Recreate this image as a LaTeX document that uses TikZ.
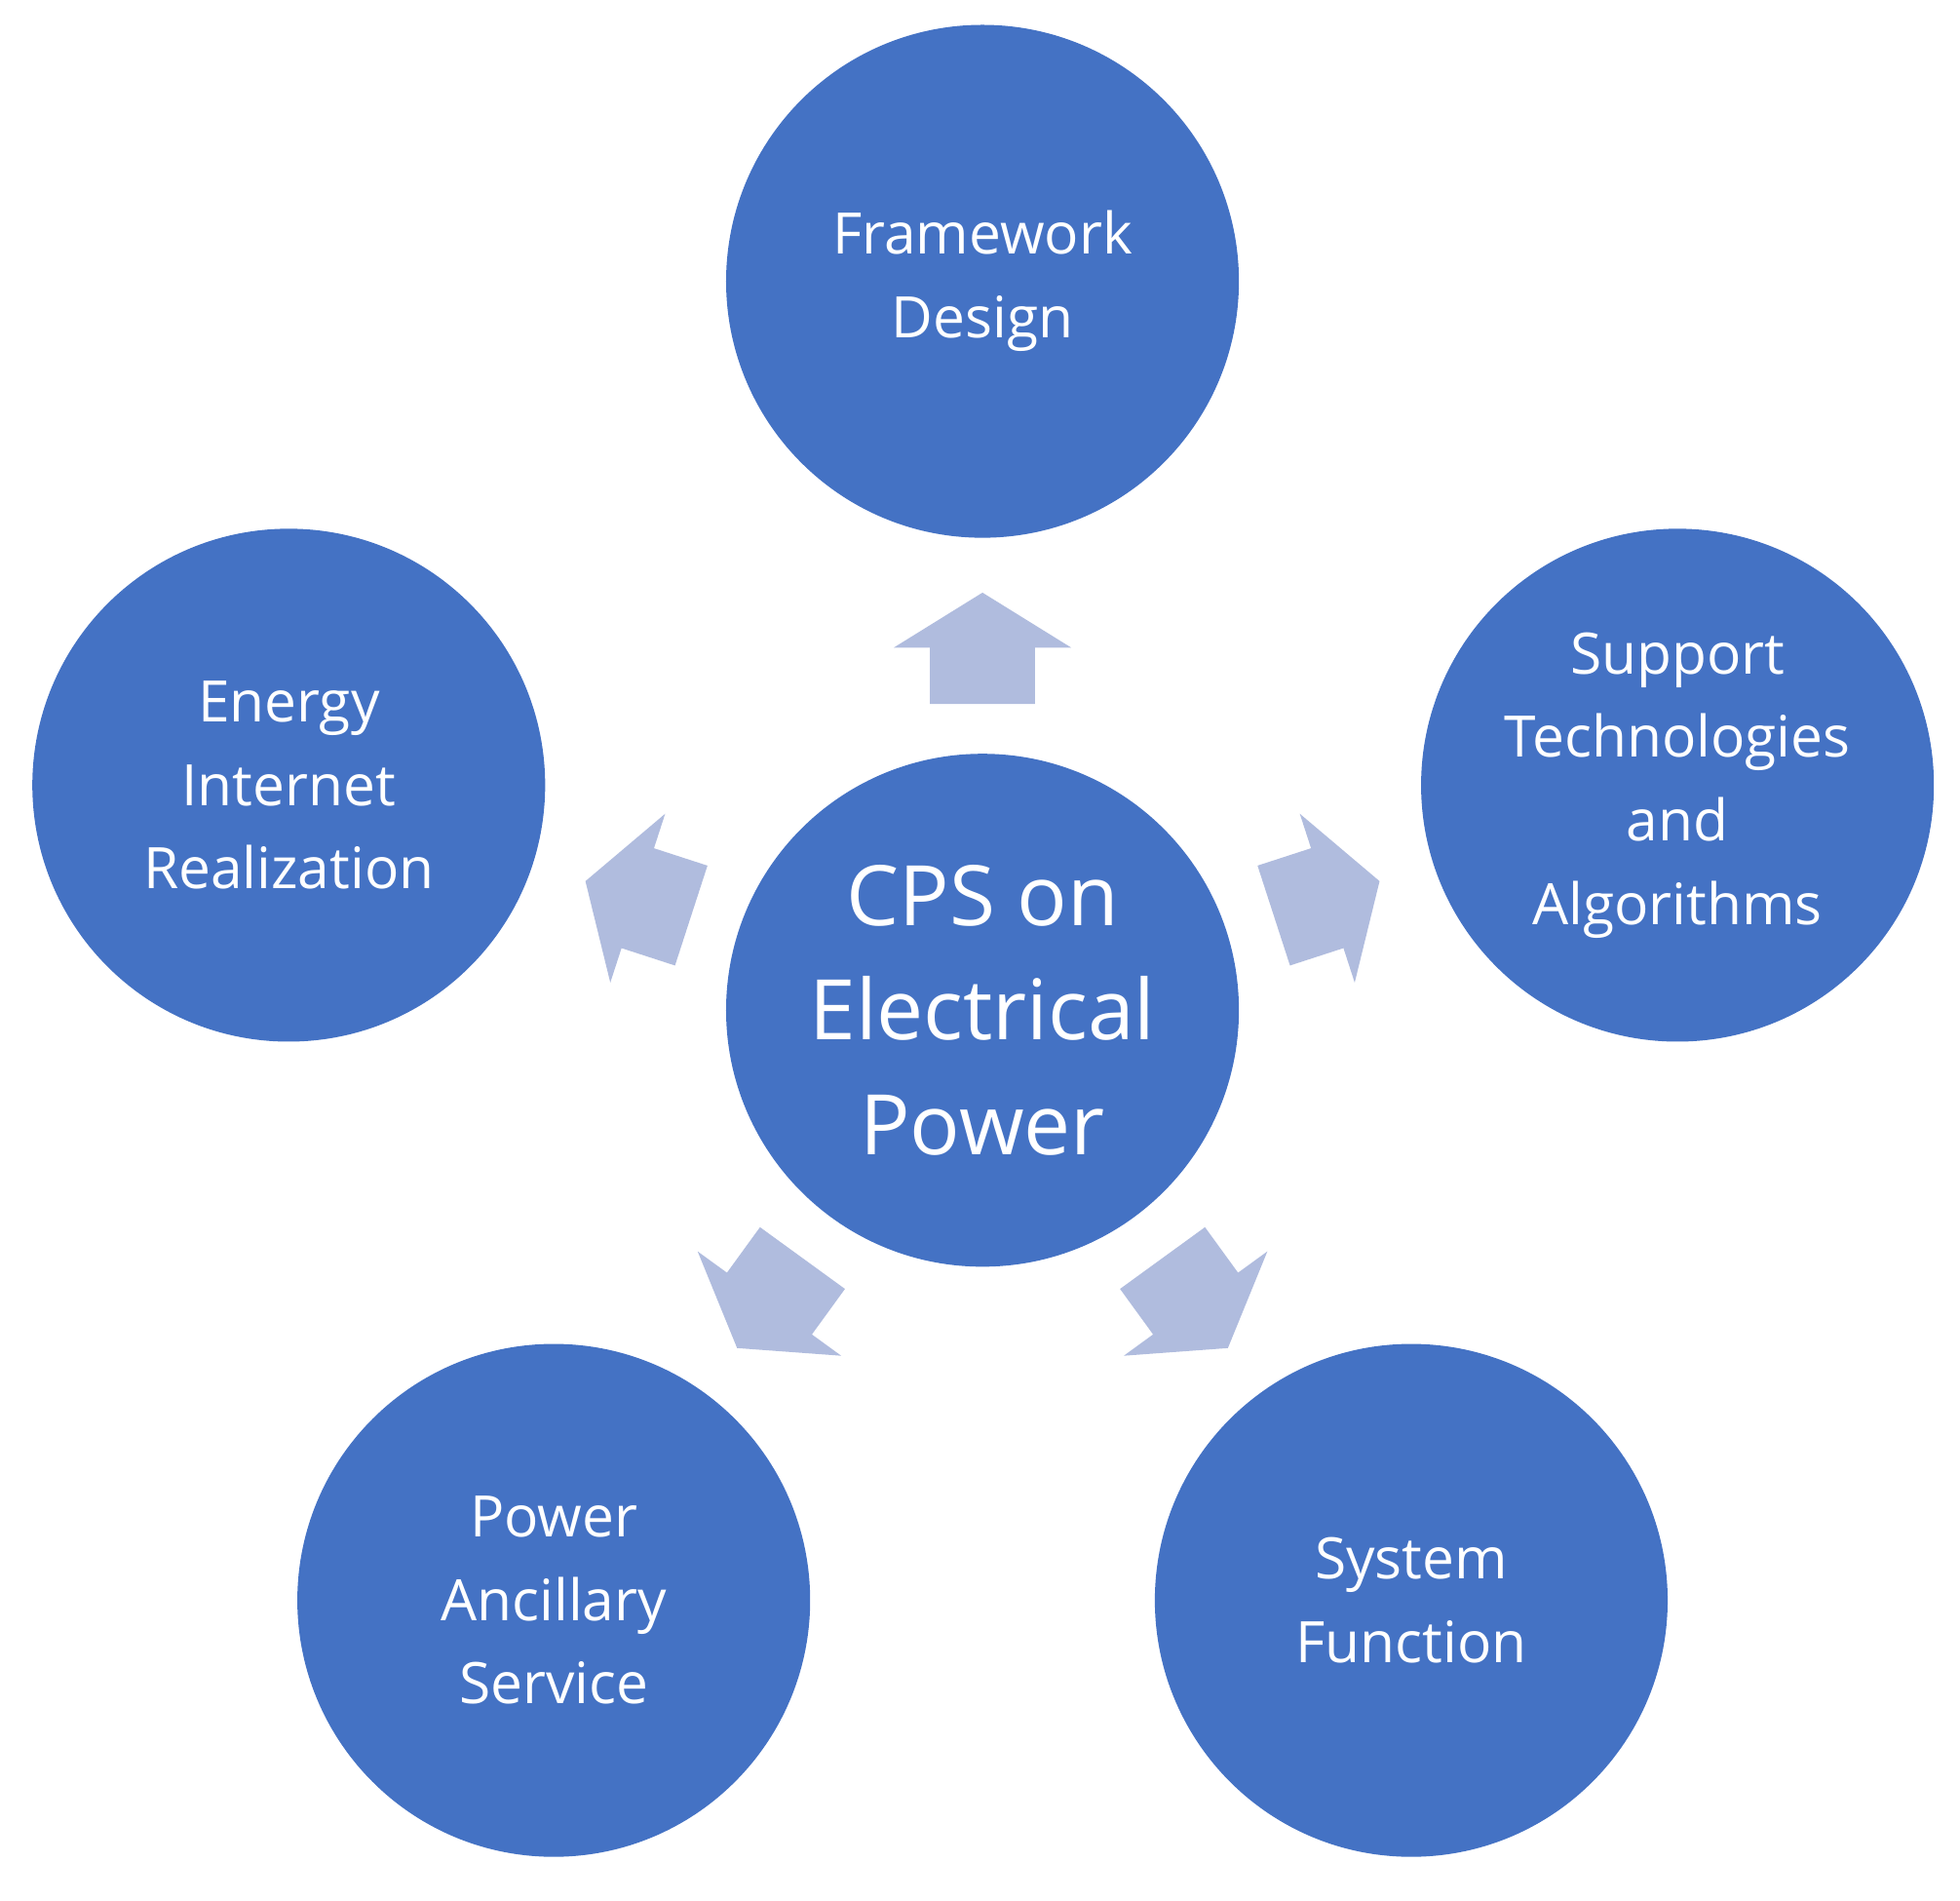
\documentclass[tikz,border=0pt]{standalone}
\usepackage{fontspec}
\setmainfont{Open Sans}
\definecolor{topicblue}{HTML}{4472C4}
\definecolor{arrowblue}{HTML}{B0BCDE}
\tikzset{
  topic/.style={circle, fill=topicblue, draw=none, minimum size=4.1cm, inner sep=0pt,
    text=white, align=center, font=\fontsize{13}{19}\selectfont},
  hub/.style={topic, font=\fontsize{19}{26}\selectfont},
  blockarrow/.style={fill=arrowblue, draw=none}
}
\begin{document}
\begin{tikzpicture}[x=0.01cm, y=0.01cm]
  \useasboundingbox (0,0) rectangle (1568,1520);
  \node[hub] (cps) at (786,712) {CPS on\\Electrical\\Power};
  \node[topic] (frame) at (786,1295) {Framework\\Design};
  \node[topic] (support) at (1342,892) {Support\\Technologies\\and\\Algorithms};
  \node[topic] (sysfun) at (1129,240) {System\\Function};
  \node[topic] (ancil) at (443,240) {Power\\Ancillary\\Service};
  \node[topic] (energy) at (231,892) {Energy\\Internet\\Realization};
  % arrows out of the hub
  \foreach \a in {90,18,-54,-126,162} {
    \begin{scope}[shift={(cps.center)}, rotate=\a]
      \fill[blockarrow] (245,-42) -- (290,-42) -- (290,-71) -- (334,0)
        -- (290,71) -- (290,42) -- (245,42) -- cycle;
    \end{scope}
  }
\end{tikzpicture}
\end{document}
